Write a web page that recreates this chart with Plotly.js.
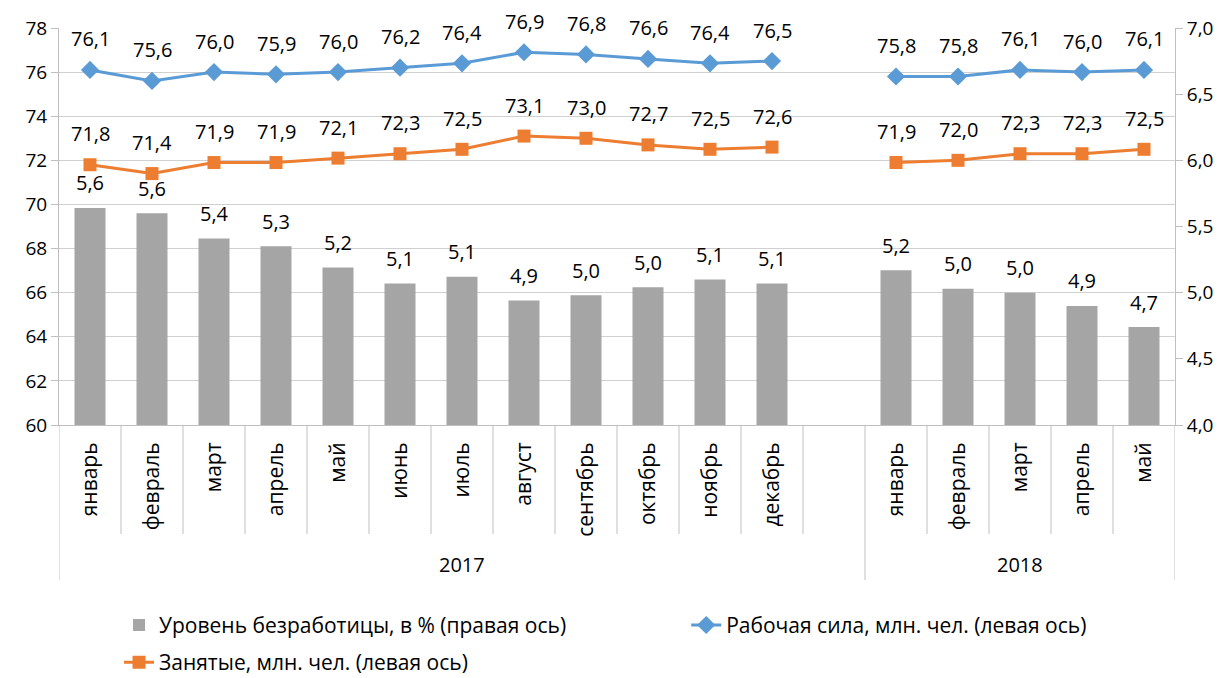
<!DOCTYPE html>
<html><head><meta charset="utf-8">
<script src="https://cdn.plot.ly/plotly-3.0.1.min.js"></script>
<style>body{margin:0;background:#fff}#chart{width:1229px;height:678px}</style>
</head><body><div id="chart"></div>
<script>
const months2017 = ['январь','февраль','март','апрель','май','июнь','июль','август','сентябрь','октябрь','ноябрь','декабрь'];
const months2018 = ['январь','февраль','март','апрель','май'];
const years = ['2017','2018'];
const unemp2017 = [5.64,5.60,5.41,5.35,5.19,5.07,5.12,4.94,4.98,5.04,5.10,5.07];
const unemp2018 = [5.17,5.03,5.00,4.90,4.74];
const labor2017 = [76.1,75.6,76.0,75.9,76.0,76.2,76.4,76.9,76.8,76.6,76.4,76.5];
const labor2018 = [75.8,75.8,76.1,76.0,76.1];
const empl2017 = [71.8,71.4,71.9,71.9,72.1,72.3,72.5,73.1,73.0,72.7,72.5,72.6];
const empl2018 = [71.9,72.0,72.3,72.3,72.5];
const seriesNames = ['Уровень безработицы, в % (правая ось)','Рабочая сила, млн. чел. (левая ось)','Занятые, млн. чел. (левая ось)'];

// slot positions: 2017 months, one empty slot, 2018 months
const x2017 = months2017.map((_, i) => i);
const gapSlot = months2017.length;
const x2018 = months2018.map((_, i) => gapSlot + 1 + i);
const xs = x2017.concat([gapSlot], x2018);
const ticktext = months2017.concat([''], months2018);
const join = (a, b) => a.concat([null], b);
const unemp = join(unemp2017, unemp2018);
const labor = join(labor2017, labor2018);
const empl = join(empl2017, empl2018);
const fmt = v => v.toFixed(1).replace('.', ',');

const FONT = '"Open Sans", "Noto Sans", sans-serif';
const GRAY = '#bfbfbf';

const traces = [
  {type:'bar', name:seriesNames[0], x:xs, y:unemp, yaxis:'y2', width:0.5,
   marker:{color:'#a5a5a5'}, hoverinfo:'skip', legend:'legend', legendgroup:'a'},
  {type:'scatter', mode:'lines+markers', name:seriesNames[1], x:xs, y:labor, connectgaps:false,
   line:{color:'#5b9bd5', width:3}, marker:{symbol:'diamond', size:14, color:'#5b9bd5'}, hoverinfo:'skip',
   legend:'legend2', legendgroup:'b'},
  {type:'scatter', mode:'lines+markers', name:seriesNames[2], x:xs, y:empl, connectgaps:false,
   line:{color:'#ed7d31', width:3}, marker:{symbol:'square', size:13, color:'#ed7d31'}, hoverinfo:'skip',
   legend:'legend', legendgroup:'c'}
];

const LBL = {size:20, color:'#000', family:FONT};
const annotations = [];
xs.forEach((x, i) => {
  if (unemp[i] !== null) annotations.push({x:x, y:unemp[i], xref:'x', yref:'y2', text:fmt(unemp[i]), showarrow:false, yshift:25, yanchor:'middle', font:LBL});
  if (labor[i] !== null) annotations.push({x:x, y:labor[i], xref:'x', yref:'y', text:fmt(labor[i]), showarrow:false, yshift:31, yanchor:'middle', font:LBL});
  if (empl[i] !== null) annotations.push({x:x, y:empl[i], xref:'x', yref:'y', text:fmt(empl[i]), showarrow:false, yshift:31, yanchor:'middle', font:LBL});
});
// year group labels
annotations.push({x:(x2017[0] - 0.5 + gapSlot + 0.5) / 2, y:-0.3526, xref:'x', yref:'paper', yanchor:'middle', text:years[0], showarrow:false, font:LBL});
annotations.push({x:(x2018[0] + x2018[x2018.length-1]) / 2, y:-0.3526, xref:'x', yref:'paper', yanchor:'middle', text:years[1], showarrow:false, font:LBL});

// category separators
const shapes = [];
const total = xs.length;
for (let k = 0; k <= total; k++) {
  const long = (k === 0 || k === gapSlot + 1 || k === total);
  shapes.push({type:'line', xref:'x', yref:'paper', x0:k - 0.5, x1:k - 0.5, y0:0, y1: long ? -0.3904 : -0.2746,
    line:{color:GRAY, width:1}});
}

const legendBase = {orientation:'v', yanchor:'top', xanchor:'left', font:{size:21, color:'#000', family:FONT},
  bgcolor:'rgba(0,0,0,0)', tracegroupgap:7, traceorder:'grouped'};

const layout = {
  width:1229, height:678,
  margin:{l:59, r:54, t:28, b:253, autoexpand:false},
  paper_bgcolor:'#fff', plot_bgcolor:'#fff',
  font:{family:FONT, size:19, color:'#000'},
  showlegend:true,
  barmode:'overlay',
  xaxis:{range:[-0.5, total - 0.5], tickmode:'array', tickvals:xs, ticktext:ticktext, tickangle:-90,
    showgrid:false, zeroline:false, showline:true, linecolor:GRAY, ticks:'', ticklabelstandoff:8,
    tickfont:{size:21, color:'#000', family:FONT}, automargin:false},
  yaxis:{range:[60, 78], dtick:2, tick0:60, showgrid:true, gridcolor:'#d0d0d0', gridwidth:1,
    zeroline:false, showline:true, linecolor:GRAY, ticks:'outside', ticklen:7, tickcolor:GRAY,
    tickfont:{size:19, color:'#000', family:FONT}, automargin:false},
  yaxis2:{range:[4, 7], dtick:0.5, tick0:4, overlaying:'y', side:'right', tickformat:'.1f',
    showgrid:false, zeroline:false, showline:true, linecolor:GRAY, ticks:'outside', ticklen:7, tickcolor:GRAY,
    tickfont:{size:19, color:'#000', family:FONT}, automargin:false},
  separators:', ',
  legend:Object.assign({}, legendBase, {x:0.0538, y:-0.453}),
  legend2:Object.assign({}, legendBase, {x:0.562, y:-0.453}),
  annotations:annotations,
  shapes:shapes
};

Plotly.newPlot('chart', traces, layout, {displayModeBar:false, staticPlot:true});
</script>
</body></html>
